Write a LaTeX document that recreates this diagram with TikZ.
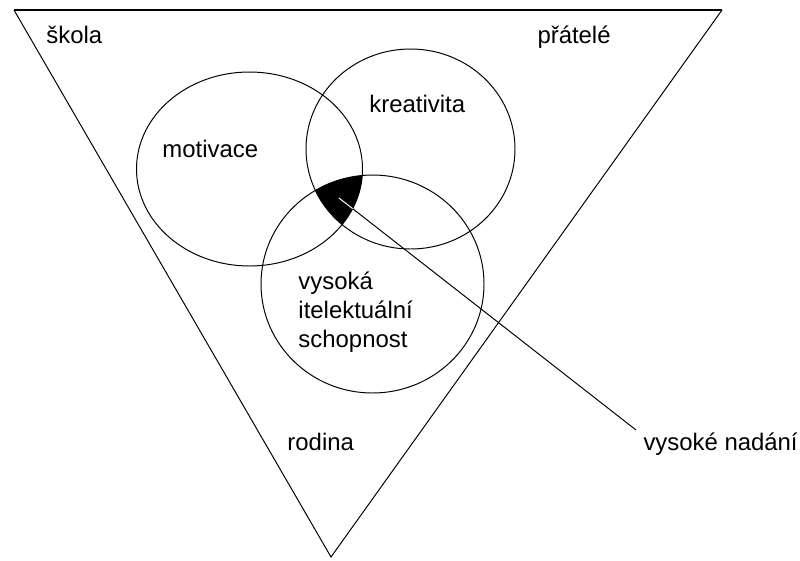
\documentclass[tikz,border=0pt]{standalone}
\usepackage{fontspec}
\setmainfont{Liberation Sans}
\begin{document}
\begin{tikzpicture}[x=0.025cm,y=-0.025cm,line width=0.7pt,
    lbl/.style={anchor=base west,inner sep=0pt,font=\fontsize{17}{20}\selectfont}]
    \useasboundingbox (0,0) rectangle (800,560);

    % the outer triangle
    \coordinate (tl) at (14,10);
    \coordinate (tr) at (722,10);
    \coordinate (bot) at (331,557);
    \draw (tr) -- (bot) -- (tl);
    \draw[line width=1.2pt] (tl) -- (tr);

    % the three circles
    \draw (249.5,169) ellipse [x radius=113, y radius=97];
    \draw (410.5,149) ellipse [x radius=104.5, y radius=100];
    \draw (372.5,284) ellipse [x radius=111.5, y radius=109];

    % pointer line
    \coordinate (core) at (339,198);
    \coordinate (tip) at (636,430);
    \draw (core) -- (tip);

    % common part of all three
    \begin{scope}
        \clip (249.5,169) ellipse [x radius=113, y radius=97];
        \clip (410.5,149) ellipse [x radius=104.5, y radius=100];
        \fill (372.5,284) ellipse [x radius=111.5, y radius=109];
        \draw[white] (core) -- (tip);
    \end{scope}

    \node[lbl] (skola) at (46,43) {škola};
    \node[lbl] (pratele) at (537,43) {přátelé};
    \node[lbl] (kreativita) at (369,112) {kreativita};
    \node[lbl] (motivace) at (162,157) {motivace};
    \node[lbl] (vysoka) at (298,289) {vysoká};
    \node[lbl] (itelekt) at (298,318) {itelektuální};
    \node[lbl] (schop) at (298,347) {schopnost};
    \node[lbl] (rodina) at (287,450) {rodina};
    \node[lbl] (nadani) at (643,450) {vysoké nadání};
\end{tikzpicture}
\end{document}
